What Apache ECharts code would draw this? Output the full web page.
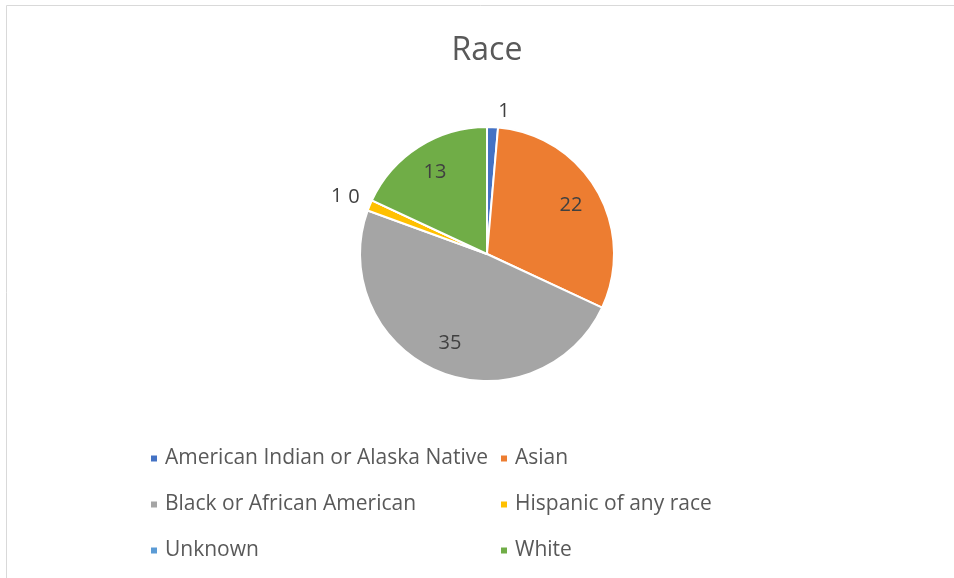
<!DOCTYPE html>
<html>
<head>
<meta charset="utf-8">
<script src="https://cdn.jsdelivr.net/npm/echarts@6/dist/echarts.min.js"></script>
<style>
html,body{margin:0;padding:0;background:#fff;}
#main{width:954px;height:578px;}
</style>
</head>
<body>
<div id="main"></div>
<script>
/* 种族饼图 */
var categories = ['American Indian or Alaska Native', 'Asian', 'Black or African American', 'Hispanic of any race', 'Unknown', 'White'];
var values = [1, 22, 35, 1, 0, 13];
var colors = ['#4472C4', '#ED7D31', '#A5A5A5', '#FFC000', '#5B9BD5', '#70AD47'];
var leftCol = [categories[0], categories[2], categories[4]];
var rightCol = [categories[1], categories[3], categories[5]];
// 外部标签引线长度（让 1 和 0 并排）
var outsideLen = [16, 0, 0, 24, 8, 0];

var font = '"Open Sans", sans-serif';

function initRaceChart(domId){
	var mychart = echarts.init(document.getElementById(domId));
	// 小扇区标签放外面，大扇区标签用透明的叠加饼放到更靠外的位置
	var pieData = categories.map(function(name, i){
		var small = values[i] < 2;
		return {
			name: name,
			value: values[i],
			itemStyle: { color: colors[i] },
			label: { show: small },
			labelLine: { show: false, length: outsideLen[i], length2: 0 }
		};
	});
	var overlayData = categories.map(function(name, i){
		return {
			name: name,
			value: values[i],
			label: { show: values[i] >= 2 }
		};
	});
	var legendBase = {
		orient: 'vertical',
		icon: 'rect',
		itemWidth: 8,
		itemHeight: 8,
		itemGap: 25,
		selectedMode: false,
		textStyle: {
			color: '#595959',
			fontSize: 21,
			lineHeight: 20,
			fontFamily: font,
			padding: [0, 0, 0, 2]
		}
	};
	var option = {
		animation: false,
		color: colors,
		title: {
			text: 'Race',
			left: 482,
			textAlign: 'center',
			top: 30,
			textStyle: {
				color: '#595959',
				fontSize: 32,
				fontWeight: 'normal',
				fontFamily: font
			}
		},
		legend: [
			echarts.util.merge({ left: 144, top: 443, data: leftCol }, legendBase, false),
			echarts.util.merge({ left: 494, top: 443, data: rightCol }, legendBase, false)
		],
		graphic: [{
			type: 'rect',
			shape: { x: 6.5, y: 5.5, width: 980, height: 600 },
			style: { fill: 'none', stroke: '#D9D9D9', lineWidth: 1 },
			silent: true
		}],
		series: [{
			type: 'pie',
			name: 'Race',
			center: [487, 254],
			radius: [0, 127],
			startAngle: 90,
			clockwise: true,
			avoidLabelOverlap: false,
			itemStyle: {
				borderColor: '#fff',
				borderWidth: 2
			},
			label: {
				position: 'outside',
				formatter: '{c}',
				color: '#404040',
				fontSize: 20,
				fontFamily: font
			},
			data: pieData
		}, {
			type: 'pie',
			name: 'labels',
			silent: true,
			center: [487, 254],
			radius: [0, 188],
			startAngle: 90,
			clockwise: true,
			itemStyle: {
				color: 'rgba(0,0,0,0)'
			},
			label: {
				position: 'inside',
				formatter: '{c}',
				color: '#404040',
				fontSize: 20,
				fontFamily: font
			},
			labelLine: { show: false },
			data: overlayData,
			z: 3
		}]
	};
	mychart.setOption(option);
}
initRaceChart('main');
</script>
</body>
</html>
